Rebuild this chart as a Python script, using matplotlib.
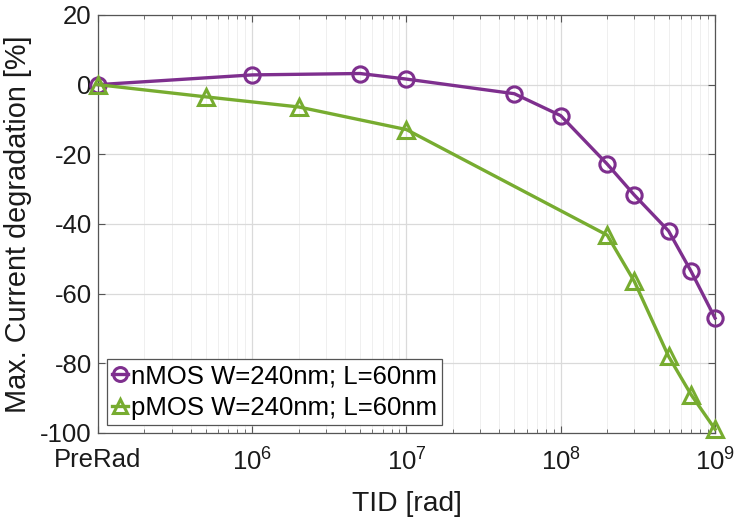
import numpy as np
import matplotlib
matplotlib.use('Agg')
import matplotlib.pyplot as plt
from matplotlib.ticker import LogLocator, NullFormatter

plt.rcParams['font.family'] = ['Liberation Sans', 'DejaVu Sans']
plt.rcParams['mathtext.fontset'] = 'custom'
plt.rcParams['mathtext.rm'] = 'Liberation Sans'
plt.rcParams['mathtext.it'] = 'Liberation Sans:italic'
plt.rcParams['axes.unicode_minus'] = False

# PreRad is drawn at 1e5 on the log axis
n_tid = [1e5, 1e6, 5e6, 1e7, 5e7, 1e8, 2e8, 3e8, 5e8, 7e8, 1e9]
n_deg = [0.0, 2.8, 3.2, 1.6, -2.6, -8.9, -22.8, -31.7, -42.0, -53.6, -67.0]
p_tid = [1e5, 5e5, 2e6, 1e7, 2e8, 3e8, 5e8, 7e8, 1e9]
p_deg = [0.0, -3.5, -6.4, -12.9, -43.2, -56.5, -78.0, -89.0, -98.9]

x_ticks = [1e5, 1e6, 1e7, 1e8, 1e9]
x_labels = ['PreRad', r'$10^6$', r'$10^7$', r'$10^8$', r'$10^9$']
y_ticks = [20, 0, -20, -40, -60, -80, -100]

purple = '#7E2F8E'
green = '#77AC30'

fig = plt.figure(figsize=(7.35, 5.17), dpi=100)
ax = fig.add_axes([0.1333, 0.1625, 0.8395, 0.8085])

ax.plot(n_tid, n_deg, color=purple, lw=2.4, marker='o', ms=11, mfc='none',
        mew=2.2, clip_on=False, zorder=3, label='nMOS W=240nm; L=60nm')
ax.plot(p_tid, p_deg, color=green, lw=2.4, marker='^', ms=11, mfc='none',
        mew=2.2, clip_on=False, zorder=3, label='pMOS W=240nm; L=60nm')

ax.set_xscale('log')
ax.set_xlim(1e5, 1e9)
ax.set_ylim(-100, 20)
ax.set_xticks(x_ticks)
ax.set_xticklabels(x_labels)
ax.xaxis.set_minor_locator(LogLocator(base=10, subs=np.arange(2, 10)))
ax.xaxis.set_minor_formatter(NullFormatter())
ax.set_yticks(y_ticks)

ax.grid(True, which='major', color='#dadada', lw=0.9)
ax.grid(True, which='minor', axis='x', color='#efefef', lw=0.7)
ax.set_axisbelow(True)

ax.tick_params(which='both', direction='in', top=True, right=True,
               colors='#555555', labelcolor='#1a1a1a', labelsize=18.5)
ax.tick_params(which='major', length=5)
ax.tick_params(which='minor', length=3)
ax.tick_params(axis='x', pad=11)
ax.tick_params(axis='y', pad=4.5)
for s in ax.spines.values():
    s.set_color('#555555')
    s.set_linewidth(0.9)

ax.set_xlabel('TID [rad]', fontsize=20.3, color='#1a1a1a', labelpad=11)
ax.set_ylabel('Max. Current degradation [%]', fontsize=20.8, color='#1a1a1a',
              labelpad=6)

leg = ax.legend(loc='lower left', bbox_to_anchor=(0.0146, 0.019), fontsize=18.5,
                handlelength=0.62, handletextpad=0.12, borderpad=0.2,
                labelspacing=0.3, fancybox=False, framealpha=1,
                edgecolor='#555555', borderaxespad=0.0)
leg.get_frame().set_linewidth(0.9)
for h in leg.legend_handles:
    h.set_markersize(10)

fig.savefig('out.png', dpi=100)
